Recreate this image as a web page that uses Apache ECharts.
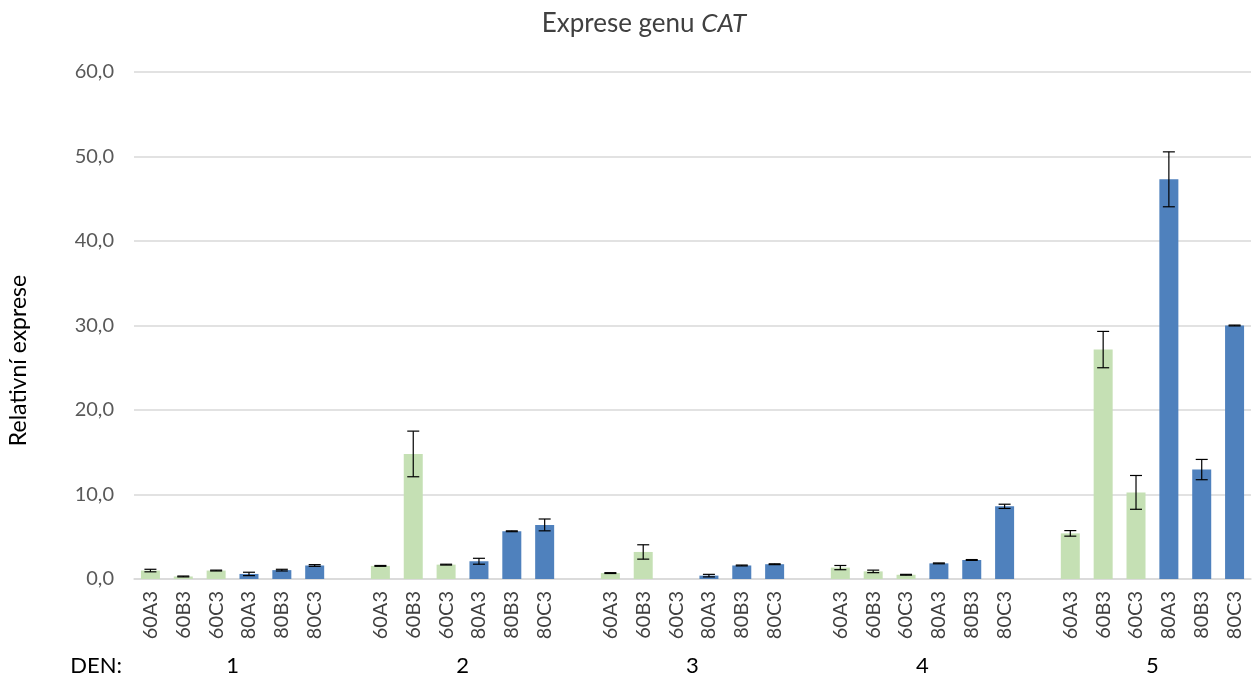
<!DOCTYPE html>
<html>
<head>
<meta charset="utf-8">
<script src="https://cdn.jsdelivr.net/npm/echarts@6/dist/echarts.min.js"></script>
<style>
  html, body { margin: 0; padding: 0; background: #fff; }
  #cat-chart { width: 1253px; height: 679px; }
</style>
</head>
<body>
<div id="cat-chart"></div>
<script>
// days (second level of the axis) and samples (first level)
const days = ['1', '2', '3', '4', '5']
const samples = ['60A3', '60B3', '60C3', '80A3', '80B3', '80C3']

// mean relative expression per day, in sample order
const day1 = [1.0, 0.3, 1.0, 0.6, 1.05, 1.6]
const day2 = [1.55, 14.8, 1.7, 2.1, 5.65, 6.4]
const day3 = [0.7, 3.2, null, 0.4, 1.6, 1.75]
const day4 = [1.35, 0.9, 0.5, 1.85, 2.25, 8.6]
const day5 = [5.4, 27.15, 10.25, 47.3, 12.95, 30.0]

// error (+/-) per day
const err1 = [0.15, 0.05, 0.05, 0.2, 0.1, 0.1]
const err2 = [0.05, 2.7, 0.05, 0.35, 0.05, 0.7]
const err3 = [0.05, 0.85, 0, 0.15, 0.05, 0.05]
const err4 = [0.25, 0.15, 0.05, 0.05, 0.05, 0.25]
const err5 = [0.33, 2.15, 2.0, 3.25, 1.2, 0.05]

const yTicks = [0, 10, 20, 30, 40, 50, 60]

const green = '#C5E0B4'
const blue = '#4F81BD'
const font = 'Lato'

const values = [day1, day2, day3, day4, day5]
const errors = [err1, err2, err3, err4, err5]

// flatten into one category axis, blank slot between days
const categories = []
const barData = []
const errData = []
values.forEach((dayVals, d) => {
  dayVals.forEach((v, i) => {
    const idx = categories.length
    categories.push(samples[i])
    barData.push({
      value: v,
      itemStyle: { color: samples[i].startsWith('60') ? green : blue }
    })
    if (v !== null) {
      errData.push([idx, v - errors[d][i], v + errors[d][i]])
    }
  })
  if (d < values.length - 1) {
    categories.push('')
    barData.push(null)
  }
})

// centre of each day group (in slot units) for the second label row
const groupCenters = days.map((d, k) => k * (samples.length + 1) + samples.length / 2)

const myChart = echarts.init(document.getElementById('cat-chart'))
const option = {
  animation: false,
  title: {
    text: '{a|Exprese genu }{b|CAT}',
    left: 639,
    textAlign: 'center',
    top: 6,
    textStyle: {
      fontWeight: 'normal',
      rich: {
        a: { fontFamily: font, fontSize: 26, fontWeight: 'normal', color: '#404040' },
        b: { fontFamily: font, fontSize: 26, fontWeight: 'normal', color: '#404040', fontStyle: 'italic' }
      }
    }
  },
  grid: {
    left: 134,
    right: 2,
    top: 72,
    bottom: 100,
    outerBoundsMode: 'none'
  },
  xAxis: [
    {
      type: 'category',
      data: categories,
      axisLine: { lineStyle: { color: '#D9D9D9', width: 1.5 } },
      axisTick: { show: false },
      axisLabel: {
        interval: 0,
        rotate: 90,
        margin: 12,
        fontFamily: font,
        fontSize: 20,
        color: '#404040'
      }
    },
    {
      type: 'value',
      position: 'bottom',
      offset: 76,
      min: 0,
      max: categories.length,
      splitLine: { show: false },
      axisLine: { show: false },
      axisTick: { show: false },
      name: 'DEN:',
      nameLocation: 'start',
      nameGap: 12,
      nameTextStyle: {
        fontFamily: font,
        fontSize: 22,
        color: '#000',
        verticalAlign: 'top'
      },
      axisLabel: {
        customValues: groupCenters,
        margin: 0,
        fontFamily: font,
        fontSize: 22,
        color: '#000',
        formatter: v => days[groupCenters.indexOf(v)]
      }
    }
  ],
  yAxis: {
    type: 'value',
    min: 0,
    max: 60,
    interval: 10,
    name: 'Relativní exprese',
    nameLocation: 'middle',
    nameGap: 104,
    nameTextStyle: { fontFamily: font, fontSize: 23, color: '#000', padding: [0, 70, 0, 0] },
    axisLine: { show: false },
    axisTick: { show: false },
    splitLine: { lineStyle: { color: '#D9D9D9', width: 1.5 } },
    axisLabel: {
      margin: 20,
      fontFamily: font,
      fontSize: 20,
      color: '#595959',
      customValues: yTicks,
      formatter: v => v.toFixed(1).replace('.', ',')
    }
  },
  series: [
    {
      type: 'bar',
      data: barData,
      barWidth: 19
    },
    {
      type: 'custom',
      data: errData,
      z: 5,
      renderItem: (params, api) => {
        const low = api.coord([api.value(0), api.value(1)])
        const high = api.coord([api.value(0), api.value(2)])
        const half = 6
        const style = { stroke: '#000', lineWidth: 1.2 }
        return {
          type: 'group',
          children: [
            { type: 'line', shape: { x1: high[0], y1: high[1], x2: low[0], y2: low[1] }, style },
            { type: 'line', shape: { x1: high[0] - half, y1: high[1], x2: high[0] + half, y2: high[1] }, style },
            { type: 'line', shape: { x1: low[0] - half, y1: low[1], x2: low[0] + half, y2: low[1] }, style }
          ]
        }
      }
    }
  ]
}
myChart.setOption(option)
</script>
</body>
</html>
